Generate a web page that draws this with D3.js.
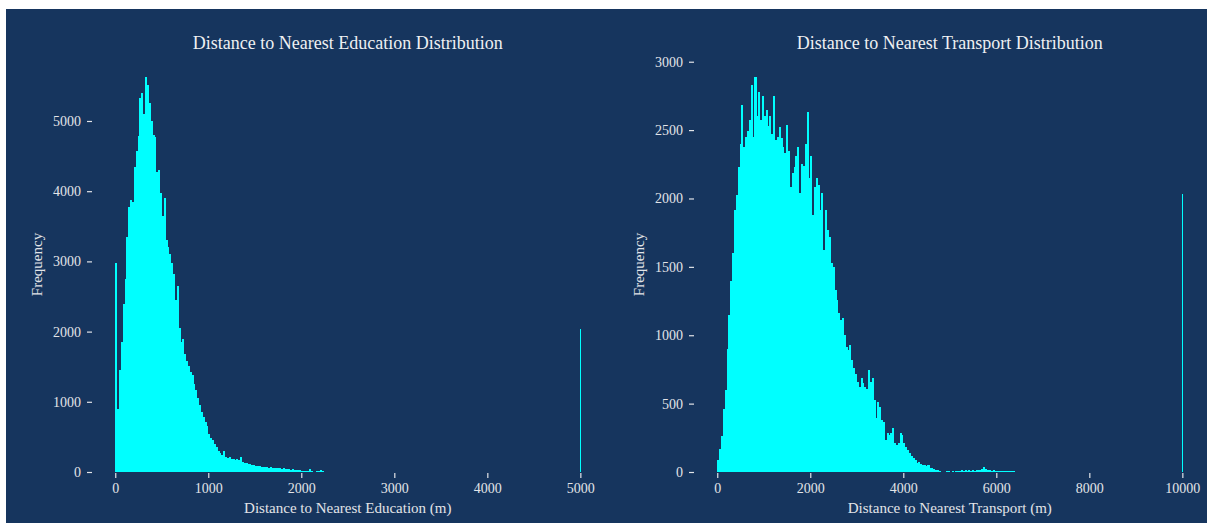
<!DOCTYPE html>
<html>
<head>
<meta charset="utf-8">
<title>Distance distributions</title>
<style>
  body { margin: 0; background: #ffffff; }
  .tick text { font-family: "Liberation Serif", serif; font-size: 14px; fill: #e2e4e8; }
  .tick line { stroke: #e2e4e8; stroke-width: 1.2; }
  .domain { display: none; }
  .title { font-family: "Liberation Serif", serif; font-size: 18px; fill: #eef0f2; text-anchor: middle; }
  .axis-label { font-family: "Liberation Serif", serif; font-size: 15px; fill: #e2e4e8; text-anchor: middle; }
  .bar { fill: #00ffff; shape-rendering: crispEdges; }
</style>
</head>
<body>
<div id="chart"></div>
<script src="https://d3js.org/d3.v7.min.js"></script>
<script>

  // ---- education distances: 20 m bins starting at 0 ----
  var educationBinWidth = 20;
  var educationCounts = [
    2970, 900, 1450, 1850, 2400, 2750, 3350, 3775, 3880, 3850,
    4350, 4570, 4780, 5330, 5400, 5100, 5630, 5510, 5250, 5000,
    4800, 4770, 4280, 4300, 3980, 3650, 3900, 3300, 3200, 3100,
    2970, 2820, 2450, 2650, 2050, 1850, 1900, 1680, 1580, 1510,
    1430, 1380, 1250, 1170, 1060, 950, 860, 780, 710, 650,
    540, 490, 455, 400, 350, 300, 270, 245, 300, 215,
    200, 210, 185, 190, 175, 185, 170, 215, 140, 130,
    125, 110, 115, 105, 95, 90, 80, 85, 70, 75,
    65, 70, 60, 65, 55, 60, 50, 55, 50, 45,
    50, 40, 45, 40, 35, 40, 30, 30, 25, 25,
    20, 15, 12, 10, 40, 8, 6, 5, 8, 10,
    28, 15, 6, 3, 2
  ];
  // a few isolated far bins [bin start, count]
  var educationTail = [[2680, 6], [2900, 5], [3470, 4], [4430, 4]];
  // values capped at the maximum distance [distance, count]
  var educationCap = [5000, 2030];
  var educationXTicks = [0, 1000, 2000, 3000, 4000, 5000];
  var educationYTicks = [0, 1000, 2000, 3000, 4000, 5000];

  // ---- transport distances: 40 m bins starting at 0 ----
  var transportBinWidth = 40;
  var transportCounts = [
    90, 165, 260, 460, 600, 900, 1150, 1400, 1600, 1915,
    2025, 2230, 2400, 2685, 2380, 2450, 2490, 2575, 2830, 2450,
    2890, 2600, 2780, 2575, 2750, 2600, 2650, 2530, 2600, 2470,
    2750, 2430, 2450, 2520, 2440, 2380, 2330, 2540, 2350, 2087,
    2185, 2230, 2307, 2380, 2039, 2250, 2240, 2400, 2630, 2150,
    2307, 1880, 2087, 2150, 2100, 1917, 2039, 1624, 1917, 1770,
    1721, 1526, 1502, 1331, 1258, 1161, 1112, 1124, 1000, 917,
    890, 929, 819, 760, 720, 660, 624, 685, 650, 624,
    610, 746, 660, 685, 527, 393, 514, 478, 380, 368,
    234, 283, 270, 283, 320, 210, 200, 210, 283, 270,
    210, 185, 161, 140, 115, 100, 88, 63, 76, 55,
    51, 48, 45, 50, 30, 27, 20, 15, 12, 5,
    3, 0, 0, 4, 5, 0, 5, 3, 8, 10,
    8, 12, 10, 14, 10, 12, 8, 15, 10, 14,
    18, 15, 22, 39, 20, 18, 15, 10, 12, 8,
    5, 4, 8, 10, 6, 8, 10, 6, 5, 4
  ];
  var transportTail = [];
  var transportCap = [10000, 2035];
  var transportXTicks = [0, 2000, 4000, 6000, 8000, 10000];
  var transportYTicks = [0, 500, 1000, 1500, 2000, 2500, 3000];

  var width = 1207,
      height = 523,
      plotTop = 57,
      plotBottom = 472;

  var svg = d3.select("#chart")
    .append("svg")
    .attr("width", width)
    .attr("height", height);

  // figure background
  svg.append("rect")
    .attr("x", 6).attr("y", 9)
    .attr("width", width - 6).attr("height", height - 9)
    .attr("fill", "#16355e");

  function drawPanel(opts) {
    var g = svg.append("g");

    // bins as {x0, x1, count}
    var bins = opts.counts.map(function (c, i) {
      return { x0: i * opts.binWidth, x1: (i + 1) * opts.binWidth, count: c };
    });
    opts.tail.forEach(function (t) {
      bins.push({ x0: t[0], x1: t[0] + opts.binWidth, count: t[1] });
    });

    var maxX = opts.cap[0];
    var pad = maxX * 0.05;
    var x = d3.scaleLinear()
      .domain([-pad, maxX + pad])
      .range([opts.left, opts.right]);

    var maxY = d3.max(bins.concat([{ count: opts.cap[1] }]), function (d) { return d.count; });
    var y = d3.scaleLinear()
      .domain([0, maxY * 1.05])
      .range([plotBottom, plotTop]);

    g.selectAll(".bar")
      .data(bins)
      .enter().append("rect")
      .attr("class", "bar")
      .attr("x", function (d) { return x(d.x0); })
      .attr("width", function (d) { return x(d.x1) - x(d.x0) + 0.2; })
      .attr("y", function (d) { return y(d.count); })
      .attr("height", function (d) { return y(0) - y(d.count); });

    // capped values drawn as a thin line on the maximum distance
    g.append("rect")
      .attr("class", "bar")
      .attr("x", x(opts.cap[0]) - 0.5)
      .attr("width", 1)
      .attr("y", y(opts.cap[1]))
      .attr("height", y(0) - y(opts.cap[1]));

    g.append("g")
      .attr("transform", "translate(0," + (plotBottom + 1) + ")")
      .call(d3.axisBottom(x).tickValues(opts.xTicks).tickSize(5).tickPadding(5).tickFormat(d3.format("d")));

    g.append("g")
      .attr("transform", "translate(" + opts.left + ",0)")
      .call(d3.axisLeft(y).tickValues(opts.yTicks).tickSize(5).tickPadding(6).tickFormat(d3.format("d")));

    var cx = (opts.left + opts.right) / 2;

    g.append("text")
      .attr("class", "title")
      .attr("x", cx).attr("y", 49)
      .text(opts.title);

    g.append("text")
      .attr("class", "axis-label")
      .attr("x", cx).attr("y", 513)
      .text(opts.xLabel);

    g.append("text")
      .attr("class", "axis-label")
      .attr("transform", "translate(" + opts.yLabelX + "," + ((plotTop + plotBottom) / 2) + ") rotate(-90)")
      .text("Frequency");
  }

  drawPanel({
    counts: educationCounts, tail: educationTail, cap: educationCap,
    binWidth: educationBinWidth,
    xTicks: educationXTicks, yTicks: educationYTicks,
    left: 92, right: 603.6, yLabelX: 42,
    title: "Distance to Nearest Education Distribution",
    xLabel: "Distance to Nearest Education (m)"
  });

  drawPanel({
    counts: transportCounts, tail: transportTail, cap: transportCap,
    binWidth: transportBinWidth,
    xTicks: transportXTicks, yTicks: transportYTicks,
    left: 694, right: 1205.6, yLabelX: 644,
    title: "Distance to Nearest Transport Distribution",
    xLabel: "Distance to Nearest Transport (m)"
  });

</script>
</body>
</html>
